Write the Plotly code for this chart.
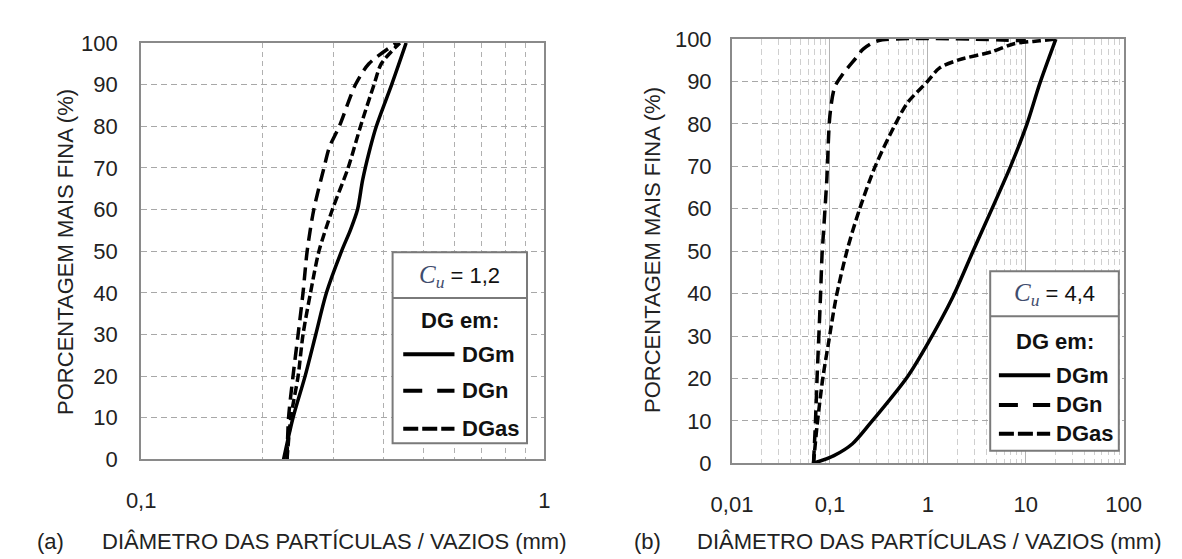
import plotly.graph_objects as go

W, H = 1182, 559

# ---------------- data ----------------
# (a) Cu = 1.2
a_dgm_d = [0.2255, 0.238, 0.255, 0.271, 0.288, 0.314, 0.330, 0.344, 0.354, 0.368, 0.383, 0.418, 0.454]
a_dgm_p = [0, 10, 20, 30, 40, 50, 55, 60, 67, 74, 80, 90, 100]
a_dgn_d = [0.230, 0.232, 0.238, 0.245, 0.252, 0.258, 0.268, 0.284, 0.293, 0.310, 0.340, 0.367, 0.430]
a_dgn_p = [0, 10, 20, 30, 40, 50, 60, 70, 75, 80, 90, 95, 100]
a_dgas_d = [0.230, 0.235, 0.245, 0.252, 0.263, 0.276, 0.298, 0.326, 0.350, 0.378, 0.394, 0.438]
a_dgas_p = [0, 10, 20, 30, 40, 50, 60, 70, 80, 90, 95, 100]

# (b) Cu = 4.4
b_dgm_d = [0.068, 0.11, 0.17, 0.26, 0.62, 0.98, 1.8, 2.96, 7.0, 10.2, 13.9, 20.3]
b_dgm_p = [0, 1.8, 4.6, 9.5, 20.4, 27.9, 39.2, 50.5, 70, 79.7, 89.5, 100]
b_dgn_d = [0.068, 0.071, 0.074, 0.080, 0.083, 0.085, 0.093, 0.100, 0.112, 0.135, 0.184, 0.22, 0.31, 10.0]
b_dgn_p = [0, 9.2, 20.4, 39, 49, 52.7, 67, 82, 88.7, 91.7, 95.5, 97.7, 99.6, 99.6]
b_dgas_d = [0.068, 0.074, 0.085, 0.096, 0.116, 0.151, 0.198, 0.29, 0.46, 0.62, 0.98, 1.32, 2.07, 4.47, 7.6, 13.9, 20.0]
b_dgas_p = [0, 9, 20.4, 27.9, 39.2, 50.5, 59.5, 70, 79.7, 85, 89.9, 93.2, 95.1, 97, 98.9, 99.6, 100]

a_xticks = [0.1, 1]
a_xtext = ["0,1", "1"]
a_minor = [0.2, 0.3, 0.4, 0.5, 0.6, 0.7, 0.8, 0.9]
b_xticks = [0.01, 0.1, 1, 10, 100]
b_xtext = ["0,01", "0,1", "1", "10", "100"]
b_minor = [m * d for d in [0.01, 0.1, 1, 10] for m in range(2, 10)]

series_names = ["DGm", "DGn", "DGas"]
xtitle = "DIÂMETRO DAS PARTÍCULAS / VAZIOS (mm)"
ytitle = "PORCENTAGEM MAIS FINA (%)"

# ---------------- styling ----------------
FONT = "Liberation Sans, Arial, sans-serif"
DASHES = {"DGm": "solid", "DGn": "13px,7px", "DGas": "9px,4px"}
LEG_DASHES = {"DGm": "solid", "DGn": "19px,15px", "DGas": "15px,4px"}
LW = 3.5
TXT = "#222"


def fx(px):
    return px / W


def fy(py):
    return 1 - py / H


fig = go.Figure()

for name, d, p in [("DGm", a_dgm_d, a_dgm_p), ("DGn", a_dgn_d, a_dgn_p), ("DGas", a_dgas_d, a_dgas_p)]:
    fig.add_trace(go.Scatter(x=d, y=p, mode="lines", name=name, xaxis="x", yaxis="y",
                             line=dict(color="black", width=LW, dash=DASHES[name], shape="spline", smoothing=0.8),
                             showlegend=False))
for name, d, p in [("DGm", b_dgm_d, b_dgm_p), ("DGn", b_dgn_d, b_dgn_p), ("DGas", b_dgas_d, b_dgas_p)]:
    fig.add_trace(go.Scatter(x=d, y=p, mode="lines", name=name, xaxis="x2", yaxis="y2",
                             line=dict(color="black", width=LW, dash=DASHES[name], shape="spline", smoothing=0.8),
                             showlegend=False))

axis_common = dict(showline=True, mirror=True, linecolor="#8a8a8a", linewidth=2, ticks="",
                   tickfont=dict(family=FONT, size=22, color=TXT), zeroline=False)

fig.update_layout(
    width=W, height=H, margin=dict(l=0, r=0, t=0, b=0),
    paper_bgcolor="white", plot_bgcolor="white", showlegend=False,
    xaxis=dict(type="log", range=[-1, 0], domain=[fx(116), fx(533)], anchor="y",
               tickvals=a_xticks, ticktext=a_xtext, showgrid=False, ticklabelstandoff=20,
               minor=dict(tickvals=a_minor, showgrid=True, gridcolor="#b0b0b0", griddash="5px,4px",
                          gridwidth=1, ticks=""),
               **axis_common),
    yaxis=dict(range=[0, 100], domain=[fy(460), fy(24)], anchor="x", dtick=10,
               showgrid=True, gridcolor="#a8a8a8", griddash="6px,4px", gridwidth=1,
               ticklabelstandoff=17, **axis_common),
    xaxis2=dict(type="log", range=[-2, 2], domain=[fx(727), fx(1132)], anchor="y2",
                tickvals=b_xticks, ticktext=b_xtext, showgrid=True, gridcolor="#b4b4b4", gridwidth=1,
                ticklabelstandoff=20,
                minor=dict(tickvals=b_minor, showgrid=True, gridcolor="#cfcfcf", griddash="6px,4px",
                           gridwidth=1, ticks=""),
                **axis_common),
    yaxis2=dict(range=[0, 100], domain=[fy(464), fy(20)], anchor="x2", dtick=10,
                showgrid=True, gridcolor="#a8a8a8", griddash="6px,4px", gridwidth=1,
                ticklabelstandoff=14, **axis_common),
)

ann = []


def add_text(px, py, text, size=22, xanchor="center", angle=0, color=TXT):
    ann.append(dict(x=fx(px), y=fy(py), xref="paper", yref="paper", text=text, textangle=angle,
                    xanchor=xanchor, yanchor="middle", showarrow=False,
                    font=dict(family=FONT, size=size, color=color)))


# axis titles
add_text(37, 243, ytitle, angle=-90)
add_text(645, 241, ytitle, angle=-90)
add_text(22, 546, "(a)")
add_text(316, 546, xtitle)
add_text(640, 546, "(b)")
add_text(931, 546, xtitle)

shapes = []


def legend_box(x0, x1, y0, y1, ydiv, ycu, cu_text, ydg, rows, lx0, lx1, tx):
    shapes.append(dict(type="rect", xref="paper", yref="paper", x0=fx(x0), x1=fx(x1), y0=fy(y1), y1=fy(y0),
                       line=dict(color="#7a7a7a", width=2), fillcolor="white", layer="above"))
    shapes.append(dict(type="line", xref="paper", yref="paper", x0=fx(x0), x1=fx(x1), y0=fy(ydiv), y1=fy(ydiv),
                       line=dict(color="#7a7a7a", width=2), layer="above"))
    cx = (x0 + x1) / 2
    add_text(cx, ycu, "<span style='font-family:Liberation Serif, Times New Roman, serif;color:#3f4d6e;"
                      "font-size:25px'><i>C<sub>u</sub></i></span> = " + cu_text, size=22, color="#111")
    add_text(cx, ydg, "<b>DG em:</b>", size=22, color="#111")
    for name, yy in zip(series_names, rows):
        shapes.append(dict(type="line", xref="paper", yref="paper", x0=fx(lx0), x1=fx(lx1), y0=fy(yy), y1=fy(yy),
                           line=dict(color="black", width=LW + 0.5, dash=LEG_DASHES[name]), layer="above"))
        add_text(tx, yy, "<b>" + name + "</b>", size=22, xanchor="left", color="#111")


legend_box(376, 515, 243, 443, 291, 268, "1,2", 315, [350, 388, 428], 387, 440, 446)
legend_box(994, 1127, 263, 451, 310, 287, "4,4", 337, [372, 403, 433], 1003, 1056, 1060)

fig.update_layout(annotations=ann, shapes=shapes)
fig.write_html("out.html")
